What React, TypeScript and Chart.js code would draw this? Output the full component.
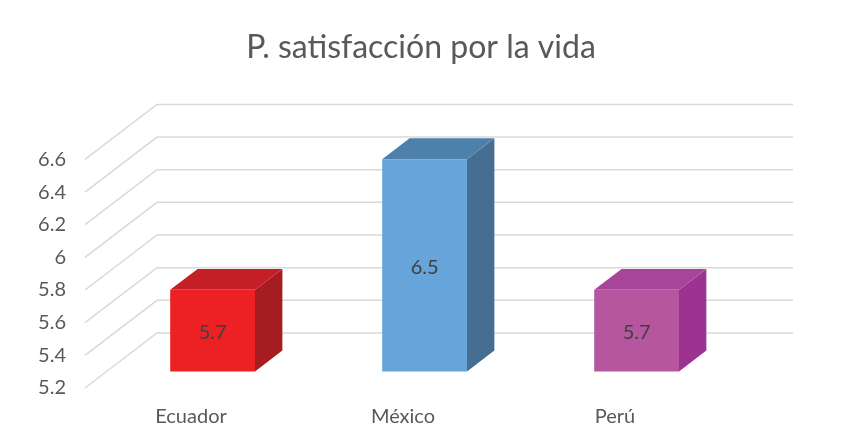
import React, { useEffect, useRef } from "react";
import { Chart, registerables } from "chart.js";

Chart.register(...registerables);

const titleText = "P. satisfacción por la vida";
const categories = ["Ecuador", "México", "Perú"];
const values = [5.7, 6.5, 5.7];
const yTickValues = [5.2, 5.4, 5.6, 5.8, 6.0, 6.2, 6.4, 6.6];
const frontColors = ["#ED2024", "#66A4D9", "#B6569E"];
const topColors = ["#C41E26", "#4E80AC", "#A7459A"];
const sideColors = ["#A61C21", "#456E91", "#9C3391"];

const FONT = "Lato, 'Open Sans', sans-serif";
const DX = 72;
const DY = -55;
const FRONT = 0.3;
const DEPTH = 0.38;

const threeD = {
  id: "threeD",
  beforeDatasetsDraw(chart: any) {
    const ctx = chart.ctx;
    const ys = chart.scales.y;
    const area = chart.chartArea;
    ctx.save();
    ctx.strokeStyle = "#D9D9D9";
    ctx.lineWidth = 1.5;
    yTickValues.forEach((v) => {
      const y = ys.getPixelForValue(v);
      ctx.beginPath();
      ctx.moveTo(area.left, y);
      ctx.lineTo(area.left + DX, y + DY);
      ctx.lineTo(area.right + DX, y + DY);
      ctx.stroke();
    });
    ctx.restore();
  },
  afterDatasetsDraw(chart: any) {
    const ctx = chart.ctx;
    const meta = chart.getDatasetMeta(0);
    const fx = FRONT * DX, fy = FRONT * DY;
    const bx = DEPTH * DX, by = DEPTH * DY;
    ctx.save();
    meta.data.forEach((el: any, i: number) => {
      const { x, y, base, width } = el.getProps(["x", "y", "base", "width"], true);
      const L = x - width / 2 + fx;
      const R = x + width / 2 + fx;
      const T = y + fy;
      const B = base + fy;
      ctx.fillStyle = sideColors[i];
      ctx.beginPath();
      ctx.moveTo(R, T);
      ctx.lineTo(R + bx, T + by);
      ctx.lineTo(R + bx, B + by);
      ctx.lineTo(R, B);
      ctx.closePath();
      ctx.fill();
      ctx.fillStyle = topColors[i];
      ctx.beginPath();
      ctx.moveTo(L, T);
      ctx.lineTo(R, T);
      ctx.lineTo(R + bx, T + by);
      ctx.lineTo(L + bx, T + by);
      ctx.closePath();
      ctx.fill();
      ctx.fillStyle = frontColors[i];
      ctx.fillRect(L, T, R - L, B - T);
      ctx.fillStyle = "#404040";
      ctx.font = `20px ${FONT}`;
      ctx.textAlign = "center";
      ctx.textBaseline = "middle";
      ctx.fillText(String(values[i]), (L + R) / 2, (T + B) / 2 + 2);
    });
    ctx.restore();
  },
};

export default function App() {
  const ref = useRef<HTMLCanvasElement | null>(null);
  useEffect(() => {
    if (!ref.current) return;
    const chart = new Chart(ref.current, {
      type: "bar",
      data: {
        labels: categories,
        datasets: [
          {
            data: values,
            xAxisID: "x",
            yAxisID: "y",
            base: yTickValues[0],
            backgroundColor: "transparent",
            borderWidth: 0,
            categoryPercentage: 1,
            barPercentage: 0.4,
          },
        ],
      },
      options: {
        responsive: false,
        animation: false,
        layout: { padding: { left: 0, right: 17, top: 0, bottom: 0 } },
        plugins: {
          legend: { display: false },
          tooltip: { enabled: false },
          title: {
            display: true,
            text: titleText,
            color: "#595959",
            font: { family: FONT, size: 32, weight: "normal" },
            padding: { top: 20, bottom: 93 },
          },
        },
        scales: {
          x: {
            grid: { display: false, drawTicks: false },
            border: { display: false },
            ticks: { color: "#595959", font: { family: FONT, size: 20 }, padding: 17 },
            afterFit: (s: any) => { s.height = 39; },
          },
          y: {
            type: "linear",
            position: "left",
            min: 5.2,
            max: 6.6,
            grid: { display: false, drawTicks: false },
            border: { display: false },
            afterBuildTicks: (s: any) => { s.ticks = yTickValues.map((v) => ({ value: v })); },
            ticks: {
              color: "#595959",
              font: { family: FONT, size: 20 },
              padding: 19,
              callback: (v: any) => String(Number(Number(v).toFixed(1))),
            },
            afterFit: (s: any) => { s.width = 77; },
          },
          y2: {
            type: "linear",
            position: "right",
            display: true,
            min: 0,
            max: 1,
            grid: { display: false, drawTicks: false },
            border: { display: false },
            ticks: { display: false },
            afterFit: (s: any) => { s.width = 113; },
          },
        },
      },
      plugins: [threeD],
    });
    return () => chart.destroy();
  }, []);
  return <canvas ref={ref} width={843} height={419} style={{ display: "block" }} />;
}
